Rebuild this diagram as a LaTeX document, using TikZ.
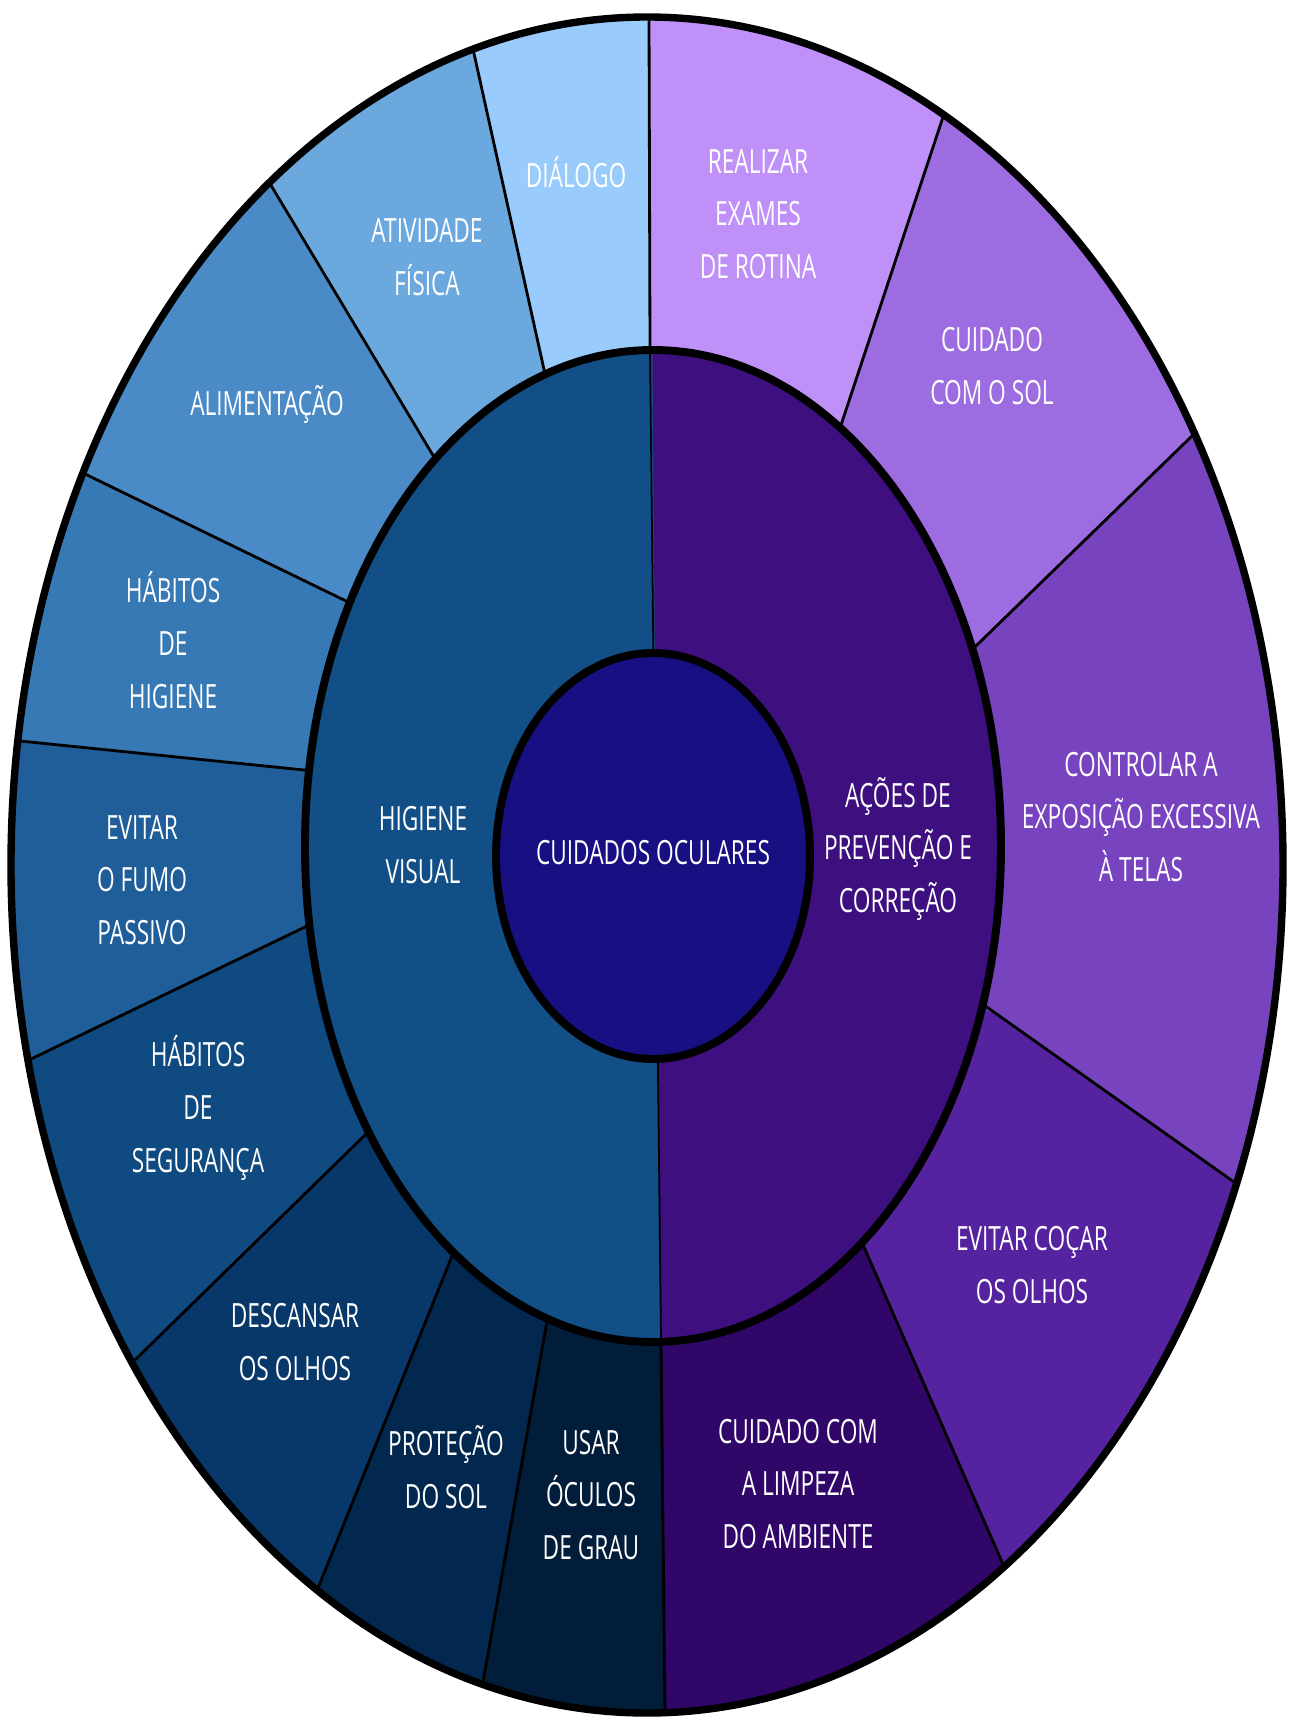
\documentclass[tikz,border=0pt]{standalone}
\usepackage{fontspec}
\newfontfamily\rotulofont[FakeStretch=0.68]{Open Sans}
\usetikzlibrary{calc}
\definecolor{dialogo}{HTML}{99CCFD}
\definecolor{atividade}{HTML}{6AA8DE}
\definecolor{alimento}{HTML}{4A8BC7}
\definecolor{higiene}{HTML}{3779B4}
\definecolor{fumo}{HTML}{1F5E99}
\definecolor{seguranca}{HTML}{0F4A81}
\definecolor{descanso}{HTML}{083769}
\definecolor{protecao}{HTML}{03284F}
\definecolor{oculos}{HTML}{021D39}
\definecolor{visual}{HTML}{114F86}
\definecolor{centro}{HTML}{180F82}
\definecolor{acoes}{HTML}{3E0F7E}
\definecolor{exames}{HTML}{BE90F8}
\definecolor{solcor}{HTML}{9D6CE0}
\definecolor{telas}{HTML}{7843BF}
\definecolor{cocar}{HTML}{55239F}
\definecolor{limpeza}{HTML}{310669}

\begin{document}
\begin{tikzpicture}[x=0.02cm, y=-0.02cm,
    rotulo/.style={text=white, align=center, inner sep=0pt, font=\rotulofont\fontsize{19}{30}\selectfont},
    corte/.style={line width=1.6pt, black}]
  \useasboundingbox (0,0) rectangle (1296,1721);
  \coordinate (c) at (647,865);
  % ends of the cuts, clockwise from the top
  \foreach \i/\xi/\yi/\xo/\yo in {0/650/350/649/17, 1/845/413/943/117, 2/980/642/1194/434,
      3/998/1015/1234/1182, 4/867/1254/1002/1562, 5/661/1342/665/1712, 6/546/1327/483/1682,
      7/450/1261/318/1588, 8/364/1136/139/1356, 9/305/927/29/1060, 10/304/770/20/741,
      11/346/601/83/473, 12/431/452/269/182, 13/543/365/473/49} {
    \coordinate (in\i) at (\xi,\yi);
    \coordinate (out\i) at (\xo,\yo);
  }

  % outer ring
  \begin{scope}
    \clip (647,865) ellipse [x radius=636, y radius=848];
    \foreach \a/\b/\col in {0/1/exames, 1/2/solcor, 2/3/telas, 3/4/cocar, 4/5/limpeza,
        5/6/oculos, 6/7/protecao, 7/8/descanso, 8/9/seguranca, 9/10/fumo, 10/11/higiene,
        11/12/alimento, 12/13/atividade, 13/0/dialogo}
      \fill[\col] (in\a) -- (out\a) -- ($(c)!2!(out\a)$) -- ($(c)!2!(out\b)$) -- (out\b) -- (in\b) -- (c) -- cycle;
    \foreach \i in {0,...,13}
      \draw[corte] ($(out\i)!1.05!(in\i)$) -- ($(in\i)!1.1!(out\i)$);
  \end{scope}

  % middle ring
  \fill[visual] (653,846) ellipse [x radius=348, y radius=496];
  \begin{scope}
    \clip (653,846) ellipse [x radius=348, y radius=496];
    \fill[acoes] (652,300) -- (1050,300) -- (1050,1400) -- (661,1400) -- cycle;
  \end{scope}
  \draw[line width=1pt] (in0) -- (in5);
  \draw[line width=4.5pt] (653,846) ellipse [x radius=348, y radius=496];

  % centre
  \filldraw[fill=centro, line width=4.5pt] (653,856) ellipse [x radius=157, y radius=203];
  \draw[line width=4.2pt] (647,865) ellipse [x radius=636, y radius=848];

  \node[rotulo] (cuid) at (653,853) {CUIDADOS OCULARES};
  \node[rotulo] (hv) at (423,845) {HIGIENE\\VISUAL};
  \node[rotulo] (ac) at (898,849) {AÇÕES DE\\PREVENÇÃO E\\CORREÇÃO};

  \node[rotulo] (dia) at (576,172) {DIÁLOGO};
  \node[rotulo] (atf) at (427,257) {ATIVIDADE\\FÍSICA};
  \node[rotulo] (ali) at (267,405) {ALIMENTAÇÃO};
  \node[rotulo] (hhi) at (173,640) {HÁBITOS\\DE\\HIGIENE};
  \node[rotulo] (fum) at (142,880) {EVITAR\\O FUMO\\PASSIVO};
  \node[rotulo] (hse) at (198,1108) {HÁBITOS\\DE\\SEGURANÇA};
  \node[rotulo] (des) at (295,1342) {DESCANSAR\\OS OLHOS};
  \node[rotulo] (pro) at (446,1467) {PROTEÇÃO\\DO SOL};
  \node[rotulo] (ocu) at (591,1495) {USAR\\ÓCULOS\\DE GRAU};
  \node[rotulo] (lim) at (798,1484) {CUIDADO COM\\A LIMPEZA\\DO AMBIENTE};
  \node[rotulo] (coc) at (1032,1265) {EVITAR COÇAR\\OS OLHOS};
  \node[rotulo] (tel) at (1141,817) {CONTROLAR A\\EXPOSIÇÃO EXCESSIVA\\À TELAS};
  \node[rotulo] (sol) at (992,366) {CUIDADO\\COM O SOL};
  \node[rotulo] (exa) at (758,214) {REALIZAR\\EXAMES\\DE ROTINA};
\end{tikzpicture}
\end{document}
